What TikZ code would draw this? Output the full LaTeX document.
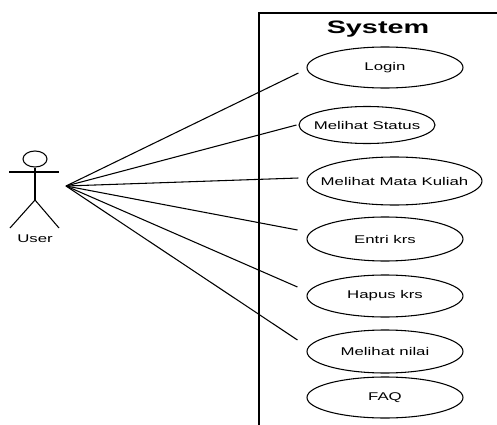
\documentclass[tikz,border=0pt]{standalone}
\usepackage{fontspec}
\setmainfont{Liberation Sans}
\usetikzlibrary{shapes.geometric}
\tikzset{
  uc/.style={draw, ellipse, line width=0.8pt, inner sep=0pt, font=\fontsize{8.4pt}{10pt}\selectfont},
  link/.style={line width=0.8pt},
  stick/.style={line width=0.8pt}
}
\newcommand{\ucl}[1]{\makebox[0pt]{\scalebox{1.5}[1]{#1}}}
\begin{document}
\begin{tikzpicture}[x=0.75pt,y=-0.75pt]
\useasboundingbox (0,0) rectangle (497,425);
% system boundary
\coordinate (sysbl) at (259,425);
\coordinate (systl) at (259,13);
\coordinate (systr) at (497,13);
\draw[stick] (sysbl) -- (systl) -- (systr);
\node[font=\bfseries\fontsize{13.5pt}{16pt}\selectfont] (systitle) at (378,29) {\scalebox{1.6}[1]{System}};
% use cases
\node[uc, minimum width=156*0.75pt, minimum height=41*0.75pt] (login) at (385,67.5) {\ucl{Login}};
\node[uc, minimum width=136*0.75pt, minimum height=37*0.75pt] (status) at (367,125) {\ucl{Melihat Status}};
\node[uc, minimum width=175*0.75pt, minimum height=48*0.75pt] (matkul) at (394.5,181) {\ucl{Melihat Mata Kuliah}};
\node[uc, minimum width=156*0.75pt, minimum height=44*0.75pt] (entri) at (385,239) {\ucl{Entri krs}};
\node[uc, minimum width=156*0.75pt, minimum height=42*0.75pt] (hapus) at (385,296) {\ucl{Hapus krs}};
\node[uc, minimum width=156*0.75pt, minimum height=43*0.75pt] (nilai) at (385,351.5) {\ucl{Melihat nilai}};
\node[uc, minimum width=156*0.75pt, minimum height=41*0.75pt] (faq) at (385,397.5) {\ucl{FAQ}};
% actor
\node[draw, ellipse, line width=0.8pt, minimum width=24*0.75pt, minimum height=16*0.75pt, inner sep=0pt] (head) at (35,159) {};
\coordinate (neck) at (35,167);
\coordinate (hip) at (35,200);
\coordinate (handl) at (9,172);
\coordinate (handr) at (59,172);
\coordinate (footl) at (10,228);
\coordinate (footr) at (59,228);
\draw[stick] (head.south) -- (hip);
\draw[stick] (handl) -- (handr);
\draw[stick] (footl) -- (hip) -- (footr);
\node[font=\fontsize{8.4pt}{10pt}\selectfont] (userlbl) at (35,239) {\scalebox{1.5}[1]{User}};
\coordinate (actor) at (66,186);
% associations
\draw[link] (actor) -- ([shift={(-8,5.5)}]login.west);
\draw[link] (actor) -- ([shift={(-2,0)}]status.west);
\draw[link] (actor) -- ([shift={(-8,-3)}]matkul.west);
\draw[link] (actor) -- ([shift={(-9,-9)}]entri.west);
\draw[link] (actor) -- ([shift={(-9,-9)}]hapus.west);
\draw[link] (actor) -- ([shift={(-9,-11.5)}]nilai.west);
\end{tikzpicture}
\end{document}
